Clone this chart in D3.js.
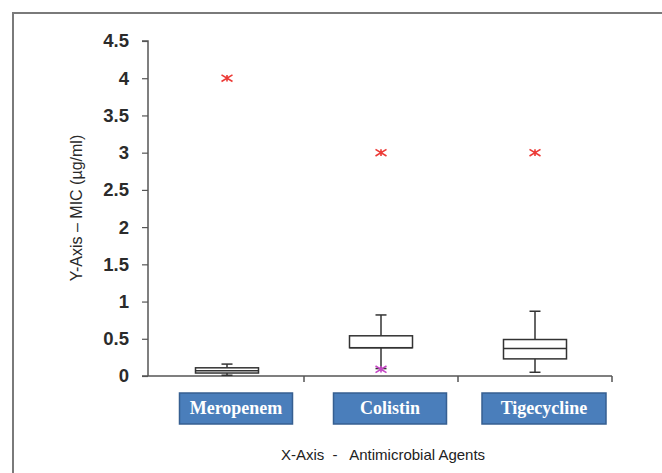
<!DOCTYPE html>
<html>
<head>
<meta charset="utf-8">
<script src="https://cdnjs.cloudflare.com/ajax/libs/d3/7.8.5/d3.min.js"></script>
<style>
  body { margin: 0; background: #fff; }
  svg { display: block; }
</style>
</head>
<body>
<svg id="chart"></svg>
<script>
var agents = ['Meropenem', 'Colistin', 'Tigecycline'];
var whiskerLow  = [0.01, 0.10, 0.05];
var q1          = [0.04, 0.38, 0.23];
var median      = [0.07, 0.38, 0.37];
var q3          = [0.11, 0.54, 0.49];
var whiskerHigh = [0.16, 0.82, 0.87];
var highOutliers = [4, 3, 3];
var lowOutliers  = [null, 0.09, null];
var yTicks = [0, 0.5, 1, 1.5, 2, 2.5, 3, 3.5, 4, 4.5];

var width = 662,
  height = 473;

var svg = d3.select('#chart')
  .attr('width', width)
  .attr('height', height);

// outer frame
svg.append('path')
  .attr('d', 'M13,' + height + 'V13H' + width)
  .attr('fill', 'none')
  .attr('stroke', '#7a7a7a')
  .attr('stroke-width', 2);

var x = d3.scaleBand()
  .domain(agents)
  .range([150, 612]);

var y = d3.scaleLinear()
  .domain([0, 4.5])
  .range([376, 41]);

var axisX = 148;

// y axis
var gy = svg.append('g')
  .attr('transform', 'translate(' + axisX + ',0)')
  .call(d3.axisLeft(y)
    .tickValues(yTicks)
    .tickSize(6)
    .tickPadding(13)
    .tickFormat(function(d) { return d; })
  );
gy.select('.domain')
  .attr('stroke', '#555')
  .attr('stroke-width', 1.5)
  .attr('d', 'M-6,' + y(4.5) + 'H0V' + y(0));
gy.selectAll('.tick line').attr('stroke', '#555').attr('stroke-width', 1.2);
gy.selectAll('.tick text')
  .attr('font-family', 'Liberation Sans, Arial, sans-serif')
  .attr('font-size', 18.5)
  .attr('font-weight', 'bold')
  .attr('fill', '#2b2b2b');

// x axis line + ticks at band boundaries
svg.append('line')
  .attr('x1', axisX - 6).attr('x2', x.range()[1])
  .attr('y1', y(0)).attr('y2', y(0))
  .attr('stroke', '#555')
  .attr('stroke-width', 1.5);

svg.selectAll('.xtick')
  .data(agents)
  .enter().append('line')
  .attr('class', 'xtick')
  .attr('x1', function(d) { return x(d) + x.bandwidth(); })
  .attr('x2', function(d) { return x(d) + x.bandwidth(); })
  .attr('y1', y(0))
  .attr('y2', y(0) + 6)
  .attr('stroke', '#555')
  .attr('stroke-width', 1.5);

var boxW = 63, capW = 11;
var g = svg.append('g');

var box = g.selectAll('.box')
  .data(d3.range(agents.length))
  .enter().append('g')
  .attr('class', 'box')
  .attr('transform', function(i) { return 'translate(' + (x(agents[i]) + x.bandwidth() / 2) + ',0)'; });

box.append('line')
  .attr('x1', 0).attr('x2', 0)
  .attr('y1', function(i) { return y(whiskerLow[i]); })
  .attr('y2', function(i) { return y(whiskerHigh[i]); })
  .attr('stroke', '#333').attr('stroke-width', 1.5);

box.append('line')
  .attr('x1', -capW / 2).attr('x2', capW / 2)
  .attr('y1', function(i) { return y(whiskerHigh[i]); })
  .attr('y2', function(i) { return y(whiskerHigh[i]); })
  .attr('stroke', '#333').attr('stroke-width', 1.5);

box.append('line')
  .attr('x1', -capW / 2).attr('x2', capW / 2)
  .attr('y1', function(i) { return y(whiskerLow[i]); })
  .attr('y2', function(i) { return y(whiskerLow[i]); })
  .attr('stroke', '#333').attr('stroke-width', 1.5);

box.append('rect')
  .attr('x', -boxW / 2)
  .attr('width', boxW)
  .attr('y', function(i) { return y(q3[i]); })
  .attr('height', function(i) { return y(q1[i]) - y(q3[i]); })
  .attr('fill', '#fff')
  .attr('stroke', '#333').attr('stroke-width', 1.5);

box.append('line')
  .attr('x1', -boxW / 2).attr('x2', boxW / 2)
  .attr('y1', function(i) { return y(median[i]); })
  .attr('y2', function(i) { return y(median[i]); })
  .attr('stroke', '#333').attr('stroke-width', 1.5);

function star(sel, color) {
  var r = 5.5;
  sel.append('path')
    .attr('d', 'M' + -r + ',' + -r * 0.6 + 'L' + r + ',' + r * 0.6 +
      'M' + -r + ',' + r * 0.6 + 'L' + r + ',' + -r * 0.6 +
      'M0,' + -r * 0.6 + 'V' + r * 0.6)
    .attr('stroke', color)
    .attr('stroke-width', 1.6)
    .attr('fill', 'none');
}

box.filter(function(i) { return highOutliers[i] != null; })
  .append('g')
  .attr('transform', function(i) { return 'translate(0,' + y(highOutliers[i]) + ')'; })
  .call(star, '#ec3a36');

box.filter(function(i) { return lowOutliers[i] != null; })
  .append('g')
  .attr('transform', function(i) { return 'translate(0,' + y(lowOutliers[i]) + ')'; })
  .call(star, '#c446c4');

// category label buttons
var labelW = [113, 113, 124];
var lab = svg.selectAll('.lab')
  .data(d3.range(agents.length))
  .enter().append('g')
  .attr('class', 'lab')
  .attr('transform', function(i) { return 'translate(' + (x(agents[i]) + x.bandwidth() / 2 + 9) + ',408)'; });

lab.append('rect')
  .attr('x', function(i) { return -labelW[i] / 2; })
  .attr('y', -15)
  .attr('width', function(i) { return labelW[i]; })
  .attr('height', 31)
  .attr('fill', '#4a7ebb')
  .attr('stroke', '#365f91')
  .attr('stroke-width', 1.5);

lab.append('text')
  .attr('text-anchor', 'middle')
  .attr('dy', '0.35em')
  .attr('fill', '#fff')
  .attr('font-family', 'Liberation Serif, Times New Roman, serif')
  .attr('font-weight', 'bold')
  .attr('font-size', 18)
  .text(function(i) { return agents[i]; });

svg.append('text')
  .attr('x', 383)
  .attr('y', 460)
  .attr('text-anchor', 'middle')
  .attr('font-family', 'Liberation Sans Narrow, Arial Narrow, sans-serif')
  .attr('font-size', 15)
  .attr('fill', '#222')
  .attr('xml:space', 'preserve')
  .text('X-Axis  -   Antimicrobial Agents');

svg.append('text')
  .attr('transform', 'translate(82,208) rotate(-90)')
  .attr('text-anchor', 'middle')
  .attr('font-family', 'Liberation Sans, Arial, sans-serif')
  .attr('font-size', 16)
  .attr('fill', '#2a2a2a')
  .text('Y-Axis \u2013 MIC (\u00b5g/ml)');
</script>
</body>
</html>
